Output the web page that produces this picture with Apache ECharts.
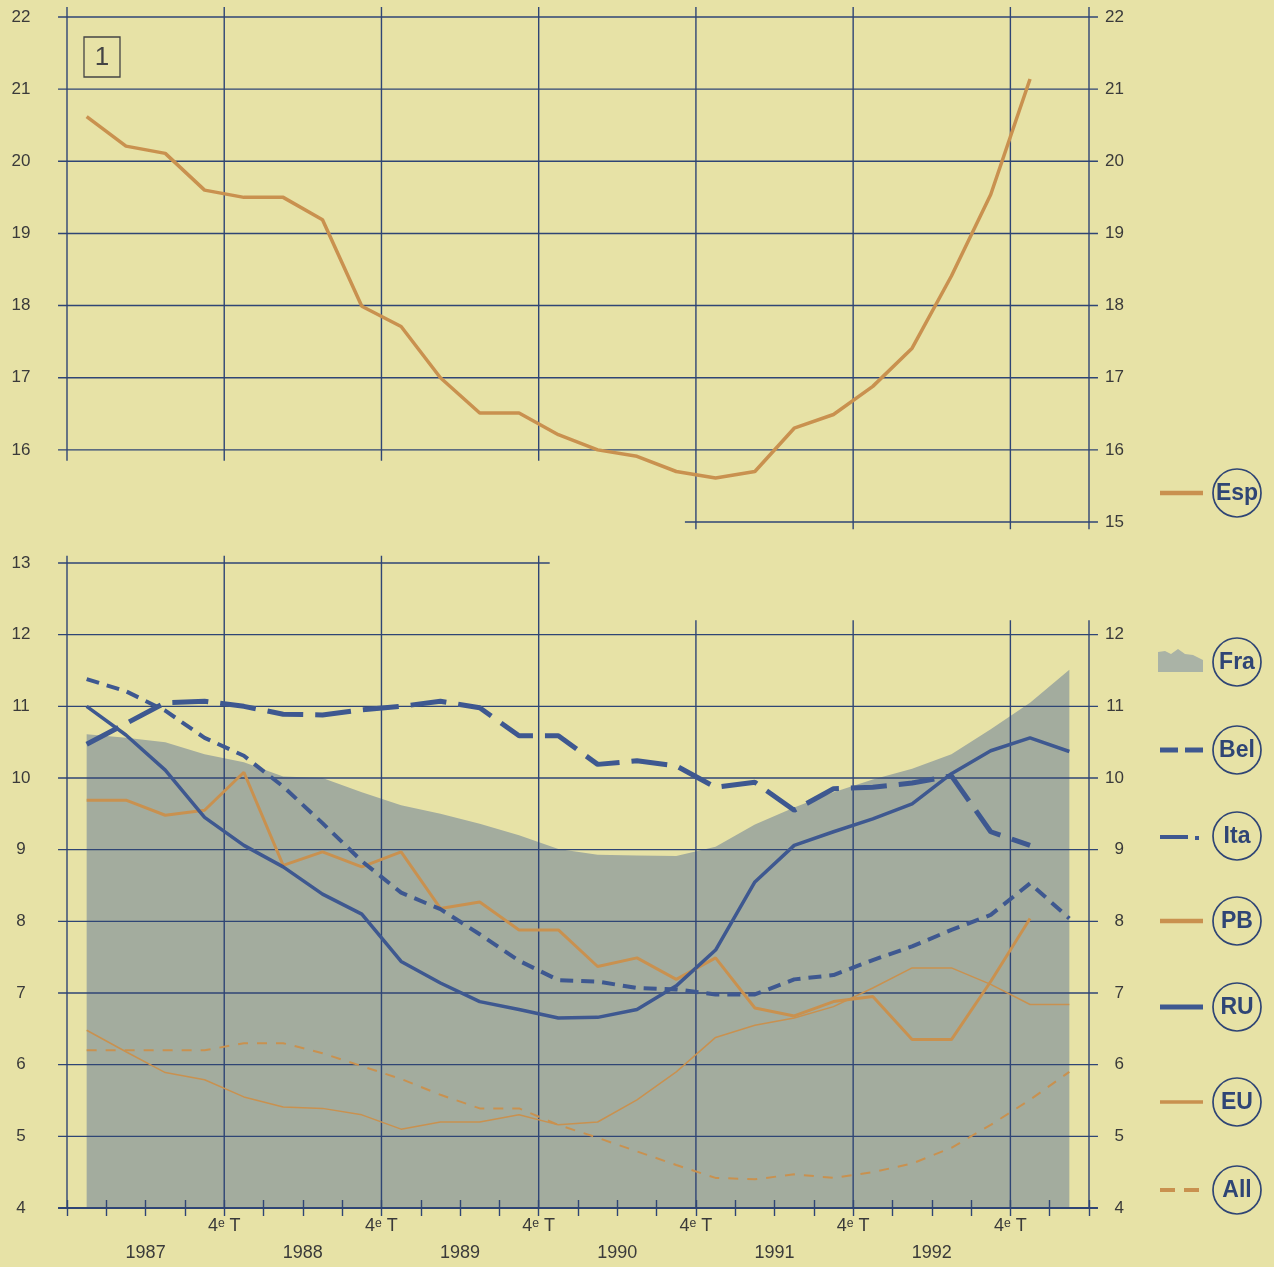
<!DOCTYPE html>
<html>
<head>
<meta charset="utf-8">
<script src="https://cdn.jsdelivr.net/npm/echarts@6/dist/echarts.min.js"></script>
<style>
html,body{margin:0;padding:0;background:#e7e2a6;}
#c{width:1274px;height:1267px;}
</style>
</head>
<body>
<div id="c"></div>
<script>
// ---------- DATA ----------
const quarters = ['1987-T1','1987-T2','1987-T3','1987-T4','1988-T1','1988-T2','1988-T3','1988-T4',
  '1989-T1','1989-T2','1989-T3','1989-T4','1990-T1','1990-T2','1990-T3','1990-T4',
  '1991-T1','1991-T2','1991-T3','1991-T4','1992-T1','1992-T2','1992-T3','1992-T4',
  '1993-T1','1993-T2'];
const esp = [20.62,20.21,20.11,19.6,19.5,19.5,19.19,17.99,17.71,17.0,16.51,16.51,16.21,16.0,15.91,15.7,15.61,15.7,16.3,16.49,16.88,17.41,18.41,19.54,21.14];
const fra = [10.61,10.56,10.5,10.33,10.22,10.02,10.0,9.8,9.62,9.5,9.36,9.2,9.01,8.93,8.92,8.91,9.04,9.35,9.59,9.8,9.98,10.13,10.33,10.68,11.05,11.51];
const bel = [11.38,11.21,10.94,10.56,10.31,9.88,9.37,8.84,8.4,8.17,7.82,7.45,7.18,7.16,7.07,7.05,6.98,6.98,7.19,7.25,7.46,7.65,7.88,8.09,8.53,8.04];
const ita = [10.47,10.76,11.05,11.07,11.0,10.89,10.88,10.95,11.0,11.07,10.98,10.59,10.59,10.19,10.24,10.17,9.87,9.94,9.55,9.85,9.87,9.93,10.03,9.25,9.06];
const pb  = [9.69,9.69,9.48,9.55,10.08,8.78,8.97,8.76,8.97,8.18,8.27,7.88,7.88,7.37,7.49,7.19,7.49,6.79,6.68,6.88,6.95,6.35,6.35,7.16,8.04];
const ru  = [11.0,10.6,10.11,9.45,9.06,8.76,8.38,8.1,7.44,7.14,6.88,6.77,6.65,6.66,6.77,7.1,7.6,8.55,9.06,9.25,9.43,9.64,10.06,10.38,10.56,10.37];
const eu  = [6.48,6.18,5.89,5.79,5.55,5.41,5.39,5.3,5.1,5.2,5.2,5.3,5.16,5.2,5.51,5.9,6.38,6.55,6.65,6.81,7.07,7.35,7.35,7.12,6.84,6.84];
const all = [6.2,6.2,6.2,6.2,6.3,6.3,6.16,5.98,5.8,5.58,5.39,5.39,5.16,4.98,4.79,4.6,4.42,4.4,4.47,4.42,4.5,4.62,4.84,5.16,5.51,5.9];

const topLeftTicks = [16,17,18,19,20,21,22];
const topRightTicks = [15,16,17,18,19,20,21,22];
const bottomLeftTicks = [4,5,6,7,8,9,10,11,12,13];
const bottomRightTicks = [4,5,6,7,8,9,10,11,12];
const yearBounds = [1987,1988,1989,1990,1991,1992,1993];
const quarterLabel = '4ᵉ T';

// ---------- STYLE ----------
const BG = '#e7e2a6', GRID = '#2f4575', BLUE = '#3e5890', ORANGE = '#c9914f',
      AREA = '#a3ac9e', TEXT = '#3a3a3a';
const XMIN = 1987, XMAX = 1993.5;
const OVX = 0.057; // horizontal overshoot of grid lines (years)

function qx(q) {
  const [y, t] = q.split('-T');
  return +y + (+t - 1) / 4 + 0.125;
}
function pairs(vals) { return vals.map((v, i) => [qx(quarters[i]), v]); }

// grid-line segments [x1,y1,x2,y2,width]
const topLines = [];
topLeftTicks.forEach(v => topLines.push([XMIN - OVX, v, XMAX + OVX, v, 1.4]));
topLines.push([1990.93, 15, XMAX + OVX, 15, 1.4]);
yearBounds.concat([XMAX]).forEach(x => {
  const low = x > 1990 ? 14.9 : 15.85;
  topLines.push([x, low, x, 22.14, 1.4]);
});
const botLines = [];
bottomRightTicks.forEach(v => botLines.push([XMIN - OVX, v, XMAX + OVX, v, v === 4 ? 2 : 1.4]));
botLines.push([XMIN - OVX, 13, 1990.07, 13, 1.4]);
yearBounds.concat([XMAX]).forEach(x => {
  const high = x > 1990 ? 12.2 : 13.1;
  botLines.push([x, 4, x, high, 1.4]);
});

function gridSeries(data, xi, yi) {
  return {
    type: 'custom', xAxisIndex: xi, yAxisIndex: yi, data: data, z: 3, clip: false, silent: true,
    renderItem: (params, api) => {
      const p1 = api.coord([api.value(0), api.value(1)]);
      const p2 = api.coord([api.value(2), api.value(3)]);
      return { type: 'line', shape: { x1: p1[0], y1: p1[1], x2: p2[0], y2: p2[1] },
               style: { stroke: GRID, lineWidth: api.value(4) } };
    }
  };
}

const labelFont = "'Liberation Sans', 'DejaVu Sans', Arial, sans-serif";
function yAxisDef(gi, pos, min, max, ticks) {
  return {
    type: 'value', gridIndex: gi, position: pos, min: min, max: max, interval: 1,
    axisLine: { show: false }, axisTick: { show: false }, splitLine: { show: false },
    axisLabel: {
      customValues: ticks, color: TEXT, fontSize: 17, fontFamily: labelFont,
      align: pos === 'left' ? 'center' : 'right', margin: pos === 'left' ? 46 : 35
    }
  };
}

const series = [
  gridSeries(topLines, 0, 0),
  gridSeries(botLines, 1, 2),
  { type: 'line', name: 'Esp', xAxisIndex: 0, yAxisIndex: 0, data: pairs(esp), showSymbol: false, z: 5,
    lineStyle: { color: ORANGE, width: 3.5 } },
  { type: 'line', name: 'Fra', xAxisIndex: 1, yAxisIndex: 2, data: pairs(fra), showSymbol: false, z: 2,
    lineStyle: { width: 0 }, areaStyle: { color: AREA, opacity: 1 } },
  { type: 'line', name: 'All', xAxisIndex: 1, yAxisIndex: 2, data: pairs(all), showSymbol: false, z: 5,
    lineStyle: { color: ORANGE, width: 2, type: [10, 9] } },
  { type: 'line', name: 'EU', xAxisIndex: 1, yAxisIndex: 2, data: pairs(eu), showSymbol: false, z: 5,
    lineStyle: { color: ORANGE, width: 1.5 } },
  { type: 'line', name: 'PB', xAxisIndex: 1, yAxisIndex: 2, data: pairs(pb), showSymbol: false, z: 5,
    lineStyle: { color: ORANGE, width: 3 } },
  { type: 'line', name: 'RU', xAxisIndex: 1, yAxisIndex: 2, data: pairs(ru), showSymbol: false, z: 6,
    lineStyle: { color: BLUE, width: 3.5 } },
  { type: 'line', name: 'Bel', xAxisIndex: 1, yAxisIndex: 2, data: pairs(bel), showSymbol: false, z: 6,
    lineStyle: { color: BLUE, width: 4, type: [13, 8] } },
  { type: 'line', name: 'Ita', xAxisIndex: 1, yAxisIndex: 2, data: pairs(ita), showSymbol: false, z: 6,
    lineStyle: { color: BLUE, width: 5, type: [36, 12] } }
];

// ---------- LEGEND (graphic) ----------
const LX1 = 1160, LX2 = 1203, CX = 1237, R = 24;
const legendItems = [
  { name: 'Esp', y: 493 }, { name: 'Fra', y: 662 }, { name: 'Bel', y: 750 }, { name: 'Ita', y: 836 },
  { name: 'PB', y: 921 }, { name: 'RU', y: 1007 }, { name: 'EU', y: 1102 }, { name: 'All', y: 1190 }
];
const gfx = [];
legendItems.forEach(it => {
  gfx.push({ type: 'circle', shape: { cx: CX, cy: it.y, r: R }, style: { fill: 'none', stroke: GRID, lineWidth: 1.7 } });
  gfx.push({ type: 'text', x: CX, y: it.y + 1, style: { text: it.name, fill: GRID, font: "bold 23px 'Liberation Sans Narrow', 'Liberation Sans', Arial, sans-serif",
    align: 'center', verticalAlign: 'middle' } });
  const y = it.y;
  if (it.name === 'Esp') gfx.push({ type: 'line', shape: { x1: LX1, y1: y, x2: LX2, y2: y }, style: { stroke: ORANGE, lineWidth: 4.5 } });
  if (it.name === 'PB') gfx.push({ type: 'line', shape: { x1: LX1, y1: y, x2: LX2, y2: y }, style: { stroke: ORANGE, lineWidth: 4.5 } });
  if (it.name === 'EU') gfx.push({ type: 'line', shape: { x1: LX1, y1: y, x2: LX2, y2: y }, style: { stroke: ORANGE, lineWidth: 3.5 } });
  if (it.name === 'RU') gfx.push({ type: 'line', shape: { x1: LX1, y1: y, x2: LX2, y2: y }, style: { stroke: BLUE, lineWidth: 5 } });
  if (it.name === 'All') {
    gfx.push({ type: 'line', shape: { x1: LX1, y1: y, x2: 1175, y2: y }, style: { stroke: ORANGE, lineWidth: 4 } });
    gfx.push({ type: 'line', shape: { x1: 1184, y1: y, x2: 1199, y2: y }, style: { stroke: ORANGE, lineWidth: 4 } });
  }
  if (it.name === 'Bel') {
    gfx.push({ type: 'line', shape: { x1: LX1, y1: y, x2: 1178, y2: y }, style: { stroke: BLUE, lineWidth: 5 } });
    gfx.push({ type: 'line', shape: { x1: 1185, y1: y, x2: 1203, y2: y }, style: { stroke: BLUE, lineWidth: 5 } });
  }
  if (it.name === 'Ita') {
    gfx.push({ type: 'line', shape: { x1: LX1, y1: y + 1, x2: 1188, y2: y + 1 }, style: { stroke: BLUE, lineWidth: 4 } });
    gfx.push({ type: 'line', shape: { x1: 1195, y1: y + 2, x2: 1199, y2: y + 2 }, style: { stroke: BLUE, lineWidth: 4 } });
  }
  if (it.name === 'Fra') {
    gfx.push({ type: 'polygon', shape: { points: [[1158, 672], [1158, 652], [1165, 651], [1171, 654], [1178, 649],
      [1185, 654], [1193, 655], [1203, 660], [1203, 672]] }, style: { fill: '#aab3a6' } });
  }
});
// panel number box
gfx.push({ type: 'rect', shape: { x: 84, y: 37, width: 36, height: 40 }, style: { fill: 'none', stroke: '#444', lineWidth: 1.3 } });
gfx.push({ type: 'text', x: 102, y: 58, style: { text: '1', fill: '#444', font: "26px 'Liberation Sans', Arial, sans-serif",
  align: 'center', verticalAlign: 'middle' } });

// ---------- OPTION ----------
const xBase = { type: 'value', min: XMIN, max: XMAX, interval: 0.25, splitLine: { show: false } };
const option = {
  backgroundColor: BG,
  animation: false,
  grid: [
    { left: 67, right: 185, top: 17, height: 505 },
    { left: 67, right: 185, top: 563, height: 652 }
  ],
  xAxis: [
    Object.assign({}, xBase, { gridIndex: 0, show: false }),
    Object.assign({}, xBase, {
      gridIndex: 1, position: 'bottom', z: 8,
      axisLine: { show: false },
      axisTick: { show: true, inside: false, length: 8, lineStyle: { color: GRID, width: 1.4 } },
      axisLabel: {
        color: TEXT, fontSize: 18, fontFamily: labelFont, margin: 5, lineHeight: 27,
        showMinLabel: true, showMaxLabel: true,
        formatter: v => {
          const r = Math.round(v * 4) / 4;
          if (Number.isInteger(r) && r > XMIN && r < XMAX) return quarterLabel;
          if (r - Math.floor(r) === 0.5 && r < XMAX) return '\n' + Math.floor(r);
          return '';
        }
      }
    }),
    Object.assign({}, xBase, {
      gridIndex: 1, position: 'bottom', z: 8,
      axisLine: { show: false }, axisLabel: { show: false },
      axisTick: { show: true, inside: true, length: 8, lineStyle: { color: GRID, width: 1.4 } }
    })
  ],
  yAxis: [
    yAxisDef(0, 'left', 15, 22, topLeftTicks),
    yAxisDef(0, 'right', 15, 22, topRightTicks),
    yAxisDef(1, 'left', 4, 13, bottomLeftTicks),
    yAxisDef(1, 'right', 4, 13, bottomRightTicks)
  ],
  graphic: { elements: gfx },
  series: series
};

const chart = echarts.init(document.getElementById('c'), null, { renderer: 'canvas' });
chart.setOption(option);
</script>
</body>
</html>
